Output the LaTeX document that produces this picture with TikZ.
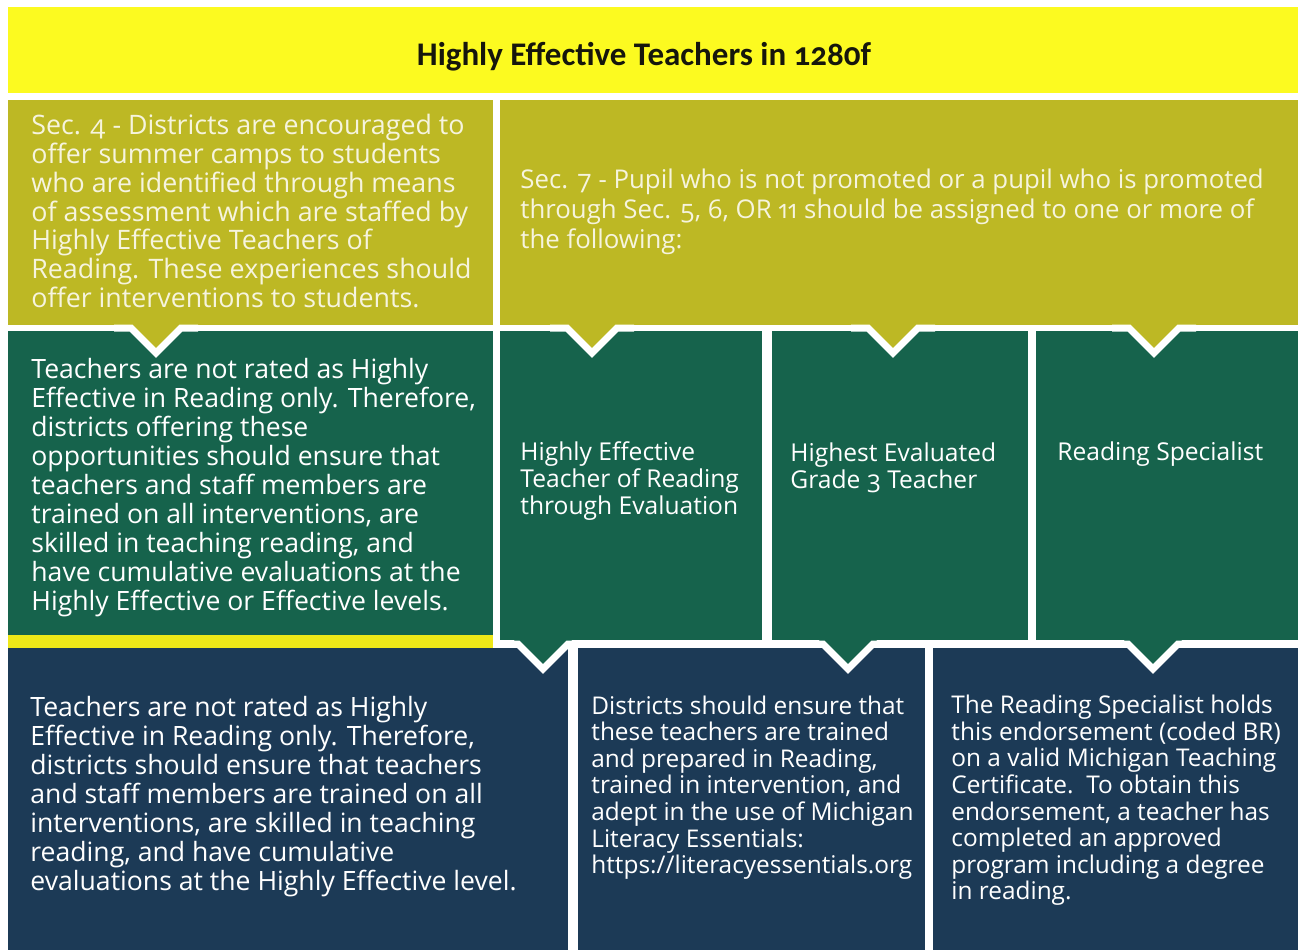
\documentclass[tikz,border=0pt]{standalone}
\usepackage{fontspec}
\setmainfont{Open Sans}[Numbers=OldStyle]
\newfontfamily\titlefont{Carlito}[Numbers=OldStyle]
\definecolor{banneryellow}{RGB}{252,250,32}
\definecolor{barYellow}{RGB}{238,232,24}
\definecolor{olive}{RGB}{189,184,36}
\definecolor{tealgreen}{RGB}{22,99,76}
\definecolor{navy}{RGB}{28,58,86}
\definecolor{cream}{RGB}{246,244,222}
\definecolor{titleink}{RGB}{22,22,12}
\newcommand{\boxnotch}[3]{%
\fill[#3] ({#1-29},{#2-4})--({#1+29},{#2-4})--(#1,{#2+25})--cycle;
\draw[white, line width=3.5pt] ({#1-42},#2)--({#1-25},#2)--(#1,{#2+25})--({#1+25},#2)--({#1+42},#2);}
\begin{document}
\begin{tikzpicture}[x=0.5pt, y=-0.5pt,
boxtext/.style={anchor=west, align=left, inner sep=0pt, text=white},
bigtext/.style={boxtext, font=\fontsize{13.3}{14.5}\selectfont},
headtext/.style={boxtext, font=\fontsize{12.3}{13.5}\selectfont},
smalltext/.style={boxtext, font=\fontsize{12.2}{13.3}\selectfont}]
\useasboundingbox (0,0) rectangle (1298,950);
\fill[white] (0,0) rectangle (1298,950);
\fill[banneryellow] (8,7) rectangle (1298,93);
\fill[olive] (8,100) rectangle (493,325);
\fill[olive] (500,100) rectangle (1298,325);
\fill[tealgreen] (8,331) rectangle (493,635);
\fill[barYellow] (8,635) rectangle (493,648);
\fill[tealgreen] (500,331) rectangle (762,640);
\fill[tealgreen] (772,331) rectangle (1028,640);
\fill[tealgreen] (1036,331) rectangle (1298,640);
\fill[navy] (8,648) rectangle (568,950);
\fill[navy] (578,648) rectangle (925,950);
\fill[navy] (933,648) rectangle (1298,950);
\boxnotch{156}{328}{olive}
\boxnotch{592}{328}{olive}
\boxnotch{893}{328}{olive}
\boxnotch{1154}{328}{olive}
\boxnotch{543}{644}{tealgreen}
\boxnotch{848}{644}{tealgreen}
\boxnotch{1153}{644}{tealgreen}
\node[text=titleink, font=\titlefont\bfseries\fontsize{16.5}{18}\selectfont] (title) at (644,57) {Highly Effective Teachers in 1280f};
\node[bigtext, text=cream, font=\fontsize{13.4}{14.35}\selectfont] (secfour) at (31,211) {Sec. 4 - Districts are encouraged to\\
offer summer camps to students\\
who are identified through means\\
of assessment which are staffed by\\
Highly Effective Teachers of\\
Reading. These experiences should\\
offer interventions to students.};
\node[bigtext, text=cream, font=\fontsize{12.9}{15}\selectfont] (secseven) at (520,212) {Sec. 7 - Pupil who is not promoted or a pupil who is promoted\\
through Sec. 5, 6, OR 11 should be assigned to one or more of\\
the following:};
\node[bigtext] (ratedsummer) at (31,488) {Teachers are not rated as Highly\\
Effective in Reading only. Therefore,\\
districts offering these\\
opportunities should ensure that\\
teachers and staff members are\\
trained on all interventions, are\\
skilled in teaching reading, and\\
have cumulative evaluations at the\\
Highly Effective or Effective levels.};
\node[headtext] (hetr) at (520,481) {Highly Effective\\
Teacher of Reading\\
through Evaluation};
\node[headtext] (grade) at (790,467.5) {Highest Evaluated\\
Grade 3 Teacher};
\node[headtext] (specialist) at (1057,454) {Reading Specialist};
\node[bigtext] (ratedpupil) at (30,796.5) {Teachers are not rated as Highly\\
Effective in Reading only. Therefore,\\
districts should ensure that teachers\\
and staff members are trained on all\\
interventions, are skilled in teaching\\
reading, and have cumulative\\
evaluations at the Highly Effective level.};
\node[smalltext] (trained) at (591,787.5) {Districts should ensure that\\
these teachers are trained\\
and prepared in Reading,\\
trained in intervention, and\\
adept in the use of Michigan\\
Literacy Essentials:\\
https://literacyessentials.org};
\node[smalltext] (endorse) at (951,800.5) {The Reading Specialist holds\\
this endorsement (coded BR)\\
on a valid Michigan Teaching\\
Certificate.\ \ To obtain this\\
endorsement, a teacher has\\
completed an approved\\
program including a degree\\
in reading.};
\end{tikzpicture}
\end{document}
